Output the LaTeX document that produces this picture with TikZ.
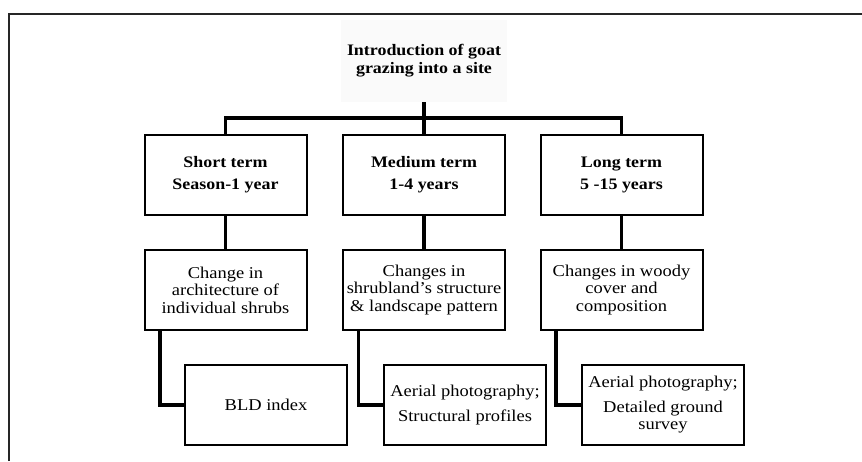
\documentclass[tikz,border=0pt]{standalone}
\usepackage{fontspec}
\setmainfont{Liberation Serif}[FakeStretch=1.12]
\begin{document}
\begin{tikzpicture}[x=1pt,y=-1pt,
	box/.style={draw, line width=2pt, minimum width=162pt, minimum height=80pt, align=center, inner sep=2pt},
	link/.style={line width=3.3pt},
	frame/.style={line width=2.4pt, black!85}]

\useasboundingbox (0,0) rectangle (862,461);
\draw[frame] (9,461) |- (862,14);

\node[fill=black!2, minimum width=166pt, minimum height=82pt, align=center, font=\fontsize{16}{18}\selectfont\bfseries] (title) at (424,61) {Introduction of goat\\grazing into a site};

\node[box, font=\fontsize{16}{18}\selectfont\bfseries] (top1) at (225.5,174.5) {Short term\\[4pt]Season-1 year};
\node[box, font=\fontsize{16}{18}\selectfont\bfseries] (top2) at (424,174.5) {Medium term\\[4pt]1-4 years};
\node[box, font=\fontsize{16}{18}\selectfont\bfseries] (top3) at (621.5,174.5) {Long term\\[4pt]5 -15 years};

\node[box, font=\fontsize{16.5}{17.5}\selectfont] (mid1) at (225.5,290) {Change in\\architecture of\\individual shrubs};
\node[box, font=\fontsize{16.5}{17.5}\selectfont] (mid2) at (424,290) {Changes in\\shrubland's structure\\\& landscape pattern};
\node[box, font=\fontsize{16.5}{17.5}\selectfont] (mid3) at (621.5,290) {Changes in woody\\cover and\\composition};

\node[box, font=\fontsize{16.5}{17.5}\selectfont] (bot1) at (266,405) {BLD index};
\node[box, font=\fontsize{16.5}{17.5}\selectfont] (bot2) at (465,405) {Aerial photography;\\[7pt]Structural profiles};
\node[box, font=\fontsize{16.5}{17.5}\selectfont] (bot3) at (663,405) {Aerial photography;\\[7pt]Detailed ground\\survey};

\coordinate (fork) at (424,118);
\draw[link] (title.south) -- (fork);
\draw[link] (top1.north) |- (fork) -| (top3.north);
\draw[link] (fork) -- (top2.north);

\foreach \i in {1,2,3} {
	\draw[link] (top\i.south) -- (mid\i.north);
	\draw[link] (mid\i.south west) ++(16.5,0) |- (bot\i.west);
}
\end{tikzpicture}
\end{document}
